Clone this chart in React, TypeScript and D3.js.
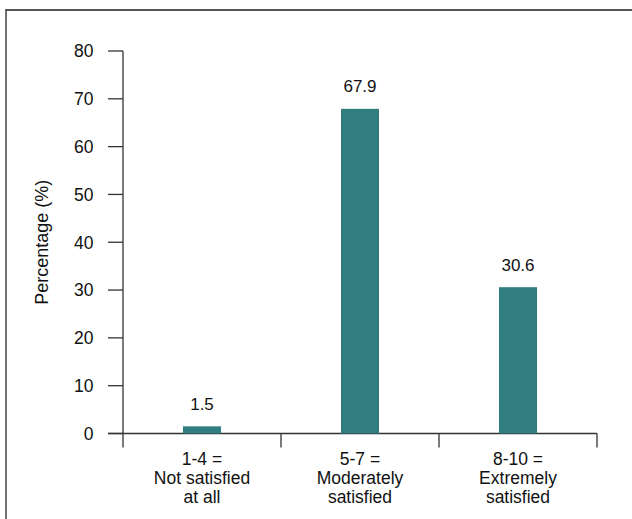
import React from "react";
import * as d3 from "d3";

const categories = ["1-4 =|Not satisfied|at all", "5-7 =|Moderately|satisfied", "8-10 =|Extremely|satisfied"];
const values = [1.5, 67.9, 30.6];
const valueLabels = ["1.5", "67.9", "30.6"];
const yTicks = [0, 10, 20, 30, 40, 50, 60, 70, 80];

const W = 632;
const H = 519;
const FONT = "'Liberation Sans', Arial, sans-serif";

export default function App() {
  const x0 = 123, x1 = 597, yTop = 51, yBot = 433.5;
  const x = d3.scaleBand<string>().domain(categories).range([x0, x1]).paddingInner(0).paddingOuter(0);
  const y = d3.scaleLinear().domain([0, 80]).range([yBot, yTop]);
  const bw = 38;
  const axisColor = "#333";
  const barColor = "#307E7F";
  const bounds = [x0, ...categories.map((c) => (x(c) as number) + x.bandwidth())];

  return (
    <svg width={W} height={H} style={{ position: "absolute", left: 0, top: 0, background: "#fff" }} fontFamily={FONT}>
      <rect x={0} y={0} width={W} height={H} fill="#fff" />
      {/* frame */}
      <line x1={6} x2={W} y1={10} y2={10} stroke="#555" strokeWidth={2} />
      <line x1={6} x2={6} y1={9} y2={H} stroke="#444" strokeWidth={1.5} />
      {/* y axis */}
      <line x1={x0} x2={x0} y1={yTop} y2={yBot + 14} stroke={axisColor} strokeWidth={1.3} />
      {yTicks.map((t) => (
        <g key={t}>
          <line x1={x0 - 15} x2={x0} y1={y(t)} y2={y(t)} stroke={axisColor} strokeWidth={1.3} />
          <text x={93.5} y={y(t)} dy="0.36em" textAnchor="end" fontSize={17.5} fill="#111">
            {t}
          </text>
        </g>
      ))}
      {/* x axis */}
      <line x1={x0 - 15} x2={x1} y1={yBot} y2={yBot} stroke={axisColor} strokeWidth={1.3} />
      {bounds.slice(1).map((b, i) => (
        <line key={i} x1={b} x2={b} y1={yBot} y2={yBot + 14} stroke={axisColor} strokeWidth={1.3} />
      ))}
      {/* bars */}
      {categories.map((c, i) => {
        const cx = (x(c) as number) + x.bandwidth() / 2;
        return (
          <g key={c}>
            <rect x={cx - bw / 2} y={y(values[i])} width={bw} height={yBot - y(values[i])} fill={barColor} />
            <text x={cx} y={y(values[i]) - 16.5} textAnchor="middle" fontSize={17} fill="#111">
              {valueLabels[i]}
            </text>
            {c.split("|").map((line, j) => (
              <text key={j} x={cx} y={465 + j * 19} textAnchor="middle" fontSize={17.5} fill="#111">
                {line}
              </text>
            ))}
          </g>
        );
      })}
      <text transform={`translate(48,${(yTop + yBot) / 2}) rotate(-90)`} textAnchor="middle" fontSize={18} fill="#111">
        Percentage (%)
      </text>
    </svg>
  );
}
